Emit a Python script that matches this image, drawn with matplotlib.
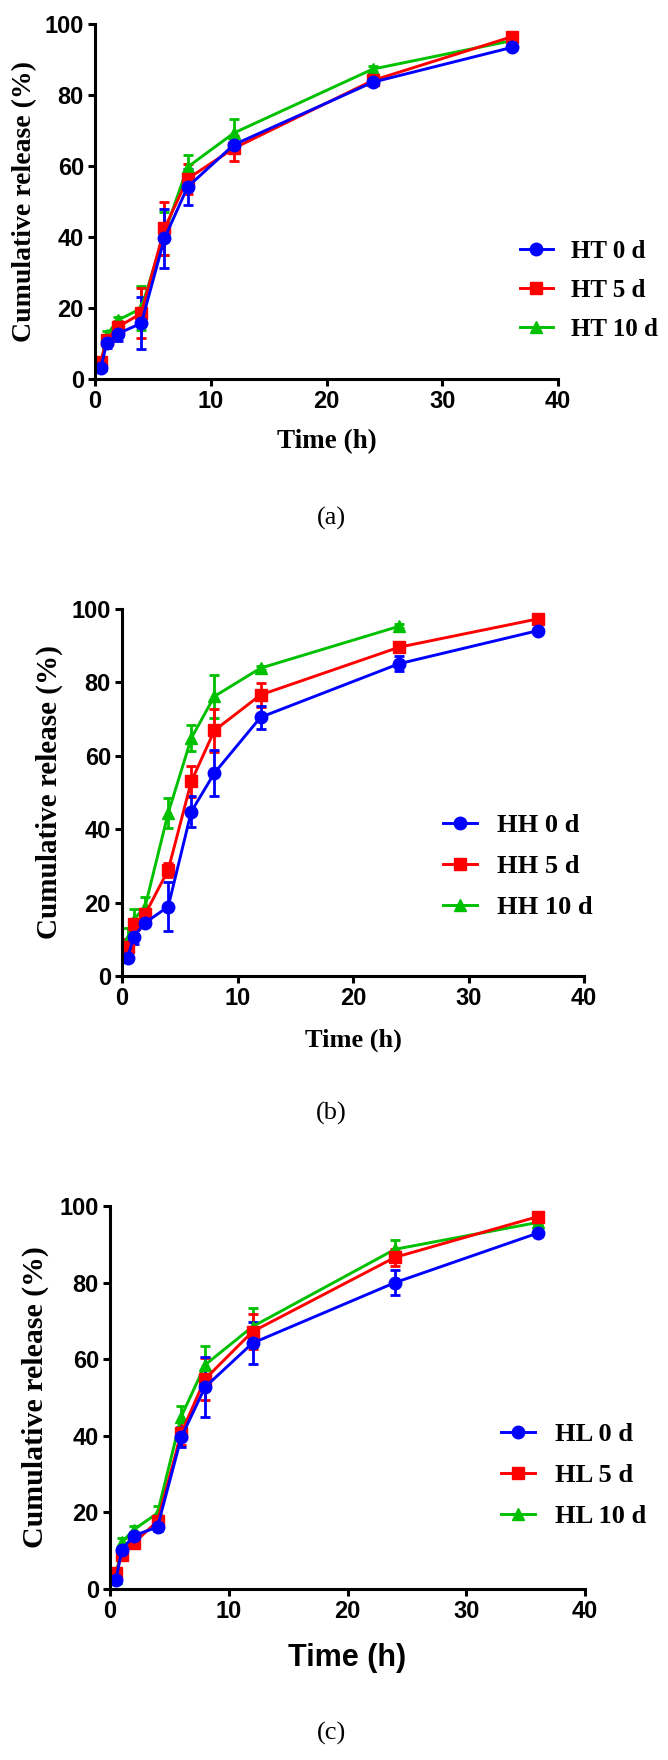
import matplotlib
matplotlib.use("Agg")
import matplotlib.pyplot as plt

# sampling times (h)
t = [0.5, 1, 2, 4, 6, 8, 12, 24, 36]
t_hh10 = [0.5, 1, 2, 4, 6, 8, 12, 24]

# (a) HT
ht0 = [3.0, 10.0, 12.8, 15.7, 39.6, 54.1, 66.0, 83.6, 93.4]
ht0_err = [0.8, 1.2, 2.0, 7.3, 8.2, 5.0, 2.0, 0.8, 0.8]
ht5 = [4.9, 11.0, 14.7, 18.5, 42.4, 56.4, 65.0, 84.1, 96.4]
ht5_err = [1.0, 1.0, 1.5, 7.0, 7.5, 4.2, 3.5, 0.8, 0.6]
ht10 = [4.0, 12.4, 16.6, 19.9, 41.0, 59.7, 69.3, 87.3, 95.3]
ht10_err = [0.8, 1.0, 1.0, 6.2, 6.0, 3.5, 4.0, 0.8, 0.6]

# (b) HH
hh0 = [5.0, 10.7, 14.5, 18.9, 44.8, 55.3, 70.5, 85.1, 94.1]
hh0_err = [0.8, 2.0, 1.0, 6.7, 4.2, 6.2, 3.1, 2.0, 0.8]
hh5 = [8.0, 14.1, 16.8, 28.9, 53.0, 66.9, 76.6, 89.6, 97.3]
hh5_err = [2.0, 1.5, 1.0, 2.0, 4.2, 5.8, 3.2, 1.0, 0.6]
hh10 = [10.0, 15.3, 18.9, 44.4, 64.8, 76.2, 83.9, 95.3]
hh10_err = [3.0, 2.9, 2.5, 4.1, 3.5, 5.9, 0.6, 0.6]

# (c) HL
hl0 = [2.4, 10.3, 13.9, 16.2, 39.6, 52.7, 64.2, 80.0, 92.9]
hl0_err = [0.8, 1.0, 1.0, 1.0, 2.6, 7.8, 5.5, 3.3, 0.8]
hl5 = [4.2, 9.0, 12.0, 17.7, 40.7, 54.8, 67.2, 86.6, 97.2]
hl5_err = [0.8, 1.0, 1.0, 1.0, 3.0, 5.5, 4.5, 2.3, 0.6]
hl10 = [3.0, 12.2, 15.5, 19.8, 45.0, 58.5, 68.5, 88.7, 95.7]
hl10_err = [0.8, 1.0, 1.0, 2.0, 2.7, 5.0, 4.9, 2.3, 0.6]

xticks = [0, 10, 20, 30, 40]
yticks = [0, 20, 40, 60, 80, 100]

blue = '#0000FF'
red = '#FF0000'
green = '#00C000'

W, H = 668, 1760
fig = plt.figure(figsize=(6.68, 17.6), dpi=100)

serif = 'Liberation Serif'
sans = 'Liberation Sans'


def panel(box, series, names, ylab_x, ylab_size, xlab_y, xlab_font, xlab_size,
          leg_xy, leg_size, leg_space, tag, tag_y):
    # box in pixels: left, right, top (y=100), bottom (y=0)
    l, r, top, bot = box
    ax = fig.add_axes([l / W, 1 - bot / H, (r - l) / W, (bot - top) / H])
    lines = []
    # green first so blue ends up on top
    for x, y, e, c, m in series[::-1]:
        eb = ax.errorbar(x, y, yerr=e, color=c, marker=m, markersize=9, lw=2.1,
                         elinewidth=2, capsize=3.6, capthick=2, clip_on=False)
        lines.append(eb[0])
    lines = lines[::-1]
    ax.set_xlim(0, 40)
    ax.set_ylim(0, 100)
    ax.set_xticks(xticks)
    ax.set_yticks(yticks)
    for s in ['top', 'right']:
        ax.spines[s].set_visible(False)
    for s in ['left', 'bottom']:
        ax.spines[s].set_linewidth(2.2)
    ax.tick_params(length=5, width=2.2, pad=3)
    for lab in ax.get_xticklabels() + ax.get_yticklabels():
        lab.set_fontfamily(sans)
        lab.set_fontweight('bold')
        lab.set_fontsize(17)
    ax.set_ylabel('Cumulative release (%)', fontfamily=serif, fontweight='bold',
                  fontsize=ylab_size, va='center')
    ax.yaxis.set_label_coords((ylab_x - l) / (r - l), 0.5)
    ax.set_xlabel('Time (h)', fontfamily=xlab_font, fontweight='bold',
                  fontsize=xlab_size, va='center')
    ax.xaxis.set_label_coords(0.5, -(xlab_y - bot) / (bot - top))
    ax.legend(lines, names, loc='upper left',
              bbox_to_anchor=(leg_xy[0] / W, 1 - leg_xy[1] / H),
              bbox_transform=fig.transFigure, frameon=False,
              borderpad=0, borderaxespad=0, handlelength=1.3,
              handletextpad=0.75, labelspacing=leg_space,
              prop={'family': serif, 'weight': 'bold', 'size': leg_size})
    fig.text(331 / W, 1 - tag_y / H, tag,
             fontfamily=serif, fontsize=19, ha='center', va='center')
    return ax


panel((95, 558, 24, 379),
      [(t, ht0, ht0_err, blue, 'o'), (t, ht5, ht5_err, red, 's'),
       (t, ht10, ht10_err, green, '^')],
      ['HT 0 d', 'HT 5 d', 'HT 10 d'],
      25, 20, 442, serif, 19.5, (520, 240), 18, 0.64, '(a)', 518)

panel((122, 584, 609, 976),
      [(t, hh0, hh0_err, blue, 'o'), (t, hh5, hh5_err, red, 's'),
       (t_hh10, hh10, hh10_err, green, '^')],
      ['HH 0 d', 'HH 5 d', 'HH 10 d'],
      49, 21, 1040, serif, 19, (443, 814), 19, 0.66, '(b)', 1113)

panel((110, 585, 1206, 1589),
      [(t, hl0, hl0_err, blue, 'o'), (t, hl5, hl5_err, red, 's'),
       (t, hl10, hl10_err, green, '^')],
      ['HL 0 d', 'HL 5 d', 'HL 10 d'],
      35, 21.5, 1658, sans, 22, (501, 1423), 19, 0.66, '(c)', 1733)

fig.savefig('out.png', dpi=100)
